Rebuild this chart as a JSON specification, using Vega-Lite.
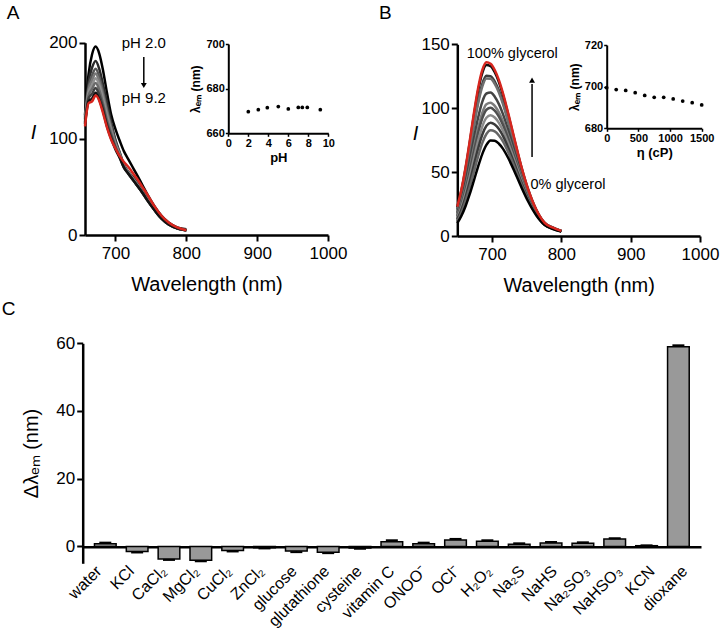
{
"$schema": "https://vega.github.io/schema/vega-lite/v6.json",
"width": 723, "height": 633,
"autosize": {"type": "none"},
"padding": 0,
"background": "white",
"config": {"view": {"stroke": null}, "font": "Liberation Sans",
  "axis": {"grid": false, "domainColor": "black", "tickColor": "black", "labelColor": "black", "titleColor": "black", "labelFont": "Liberation Sans", "titleFont": "Liberation Sans"}},
"datasets": {
"specA": [
{"s":"a1","w":657,"i":125},{"s":"a1","w":662,"i":167},{"s":"a1","w":667,"i":188},{"s":"a1","w":672,"i":196},{"s":"a1","w":677,"i":189},{"s":"a1","w":682,"i":173},{"s":"a1","w":688,"i":148},{"s":"a1","w":694,"i":125},{"s":"a1","w":700,"i":110},{"s":"a1","w":706,"i":98},{"s":"a1","w":712,"i":87},{"s":"a1","w":718,"i":79},{"s":"a1","w":724,"i":71},{"s":"a1","w":730,"i":63},{"s":"a1","w":738,"i":52},{"s":"a1","w":746,"i":41},{"s":"a1","w":755,"i":30},{"s":"a1","w":765,"i":20},{"s":"a1","w":775,"i":13},{"s":"a1","w":787,"i":8},{"s":"a1","w":800,"i":6},
{"s":"a2","w":657,"i":123},{"s":"a2","w":662,"i":159},{"s":"a2","w":667,"i":174},{"s":"a2","w":672,"i":181},{"s":"a2","w":677,"i":173},{"s":"a2","w":682,"i":158},{"s":"a2","w":688,"i":138},{"s":"a2","w":694,"i":117},{"s":"a2","w":700,"i":99},{"s":"a2","w":706,"i":86},{"s":"a2","w":712,"i":73},{"s":"a2","w":718,"i":66},{"s":"a2","w":724,"i":61},{"s":"a2","w":730,"i":55},{"s":"a2","w":738,"i":46},{"s":"a2","w":746,"i":37},{"s":"a2","w":755,"i":27},{"s":"a2","w":765,"i":18},{"s":"a2","w":775,"i":12},{"s":"a2","w":787,"i":7},{"s":"a2","w":800,"i":5},
{"s":"a3","w":657,"i":121},{"s":"a3","w":662,"i":154},{"s":"a3","w":667,"i":166},{"s":"a3","w":672,"i":173},{"s":"a3","w":677,"i":165},{"s":"a3","w":682,"i":151},{"s":"a3","w":688,"i":131},{"s":"a3","w":694,"i":113},{"s":"a3","w":700,"i":97},{"s":"a3","w":706,"i":85},{"s":"a3","w":712,"i":72},{"s":"a3","w":718,"i":65},{"s":"a3","w":724,"i":60},{"s":"a3","w":730,"i":54},{"s":"a3","w":738,"i":45},{"s":"a3","w":746,"i":36},{"s":"a3","w":755,"i":27},{"s":"a3","w":765,"i":18},{"s":"a3","w":775,"i":12},{"s":"a3","w":787,"i":7},{"s":"a3","w":800,"i":5},
{"s":"a4","w":657,"i":120},{"s":"a4","w":662,"i":151},{"s":"a4","w":667,"i":161},{"s":"a4","w":672,"i":168},{"s":"a4","w":677,"i":160},{"s":"a4","w":682,"i":147},{"s":"a4","w":688,"i":128},{"s":"a4","w":694,"i":111},{"s":"a4","w":700,"i":95},{"s":"a4","w":706,"i":84},{"s":"a4","w":712,"i":72},{"s":"a4","w":718,"i":65},{"s":"a4","w":724,"i":59},{"s":"a4","w":730,"i":53},{"s":"a4","w":738,"i":45},{"s":"a4","w":746,"i":36},{"s":"a4","w":755,"i":27},{"s":"a4","w":765,"i":18},{"s":"a4","w":775,"i":12},{"s":"a4","w":787,"i":7},{"s":"a4","w":800,"i":5},
{"s":"a5","w":657,"i":118},{"s":"a5","w":662,"i":148},{"s":"a5","w":667,"i":156},{"s":"a5","w":672,"i":163},{"s":"a5","w":677,"i":156},{"s":"a5","w":682,"i":143},{"s":"a5","w":688,"i":124},{"s":"a5","w":694,"i":108},{"s":"a5","w":700,"i":94},{"s":"a5","w":706,"i":83},{"s":"a5","w":712,"i":71},{"s":"a5","w":718,"i":65},{"s":"a5","w":724,"i":59},{"s":"a5","w":730,"i":53},{"s":"a5","w":738,"i":44},{"s":"a5","w":746,"i":36},{"s":"a5","w":755,"i":26},{"s":"a5","w":765,"i":18},{"s":"a5","w":775,"i":12},{"s":"a5","w":787,"i":7},{"s":"a5","w":800,"i":5},
{"s":"a6","w":657,"i":117},{"s":"a6","w":662,"i":145},{"s":"a6","w":667,"i":152},{"s":"a6","w":672,"i":158},{"s":"a6","w":677,"i":151},{"s":"a6","w":682,"i":138},{"s":"a6","w":688,"i":120},{"s":"a6","w":694,"i":106},{"s":"a6","w":700,"i":92},{"s":"a6","w":706,"i":82},{"s":"a6","w":712,"i":71},{"s":"a6","w":718,"i":64},{"s":"a6","w":724,"i":58},{"s":"a6","w":730,"i":52},{"s":"a6","w":738,"i":44},{"s":"a6","w":746,"i":35},{"s":"a6","w":755,"i":26},{"s":"a6","w":765,"i":17},{"s":"a6","w":775,"i":11},{"s":"a6","w":787,"i":7},{"s":"a6","w":800,"i":5},
{"s":"a7","w":657,"i":116},{"s":"a7","w":662,"i":142},{"s":"a7","w":667,"i":147},{"s":"a7","w":672,"i":153},{"s":"a7","w":677,"i":146},{"s":"a7","w":682,"i":134},{"s":"a7","w":688,"i":116},{"s":"a7","w":694,"i":103},{"s":"a7","w":700,"i":91},{"s":"a7","w":706,"i":81},{"s":"a7","w":712,"i":70},{"s":"a7","w":718,"i":64},{"s":"a7","w":724,"i":58},{"s":"a7","w":730,"i":52},{"s":"a7","w":738,"i":44},{"s":"a7","w":746,"i":35},{"s":"a7","w":755,"i":26},{"s":"a7","w":765,"i":17},{"s":"a7","w":775,"i":11},{"s":"a7","w":787,"i":7},{"s":"a7","w":800,"i":5},
{"s":"a8","w":657,"i":115},{"s":"a8","w":662,"i":139},{"s":"a8","w":667,"i":142},{"s":"a8","w":672,"i":148},{"s":"a8","w":677,"i":141},{"s":"a8","w":682,"i":130},{"s":"a8","w":688,"i":113},{"s":"a8","w":694,"i":100},{"s":"a8","w":700,"i":89},{"s":"a8","w":706,"i":80},{"s":"a8","w":712,"i":70},{"s":"a8","w":718,"i":64},{"s":"a8","w":724,"i":58},{"s":"a8","w":730,"i":52},{"s":"a8","w":738,"i":44},{"s":"a8","w":746,"i":35},{"s":"a8","w":755,"i":26},{"s":"a8","w":765,"i":17},{"s":"a8","w":775,"i":11},{"s":"a8","w":787,"i":7},{"s":"a8","w":800,"i":5},
{"s":"ar","w":657,"i":113},{"s":"ar","w":662,"i":137},{"s":"ar","w":667,"i":139},{"s":"ar","w":672,"i":145},{"s":"ar","w":677,"i":140},{"s":"ar","w":682,"i":128},{"s":"ar","w":688,"i":112},{"s":"ar","w":694,"i":99},{"s":"ar","w":700,"i":90},{"s":"ar","w":706,"i":82},{"s":"ar","w":712,"i":76},{"s":"ar","w":718,"i":71},{"s":"ar","w":724,"i":65},{"s":"ar","w":730,"i":59},{"s":"ar","w":738,"i":50},{"s":"ar","w":746,"i":41},{"s":"ar","w":755,"i":30},{"s":"ar","w":765,"i":20},{"s":"ar","w":775,"i":13},{"s":"ar","w":787,"i":8},{"s":"ar","w":800,"i":5}
],
"specB": [
{"s":"b1","w":650,"i":23.0},{"s":"b1","w":656,"i":36.5},{"s":"b1","w":662,"i":54.0},{"s":"b1","w":668,"i":74.6},{"s":"b1","w":674,"i":96.2},{"s":"b1","w":680,"i":115.6},{"s":"b1","w":686,"i":129.7},{"s":"b1","w":692,"i":135.9},{"s":"b1","w":698,"i":134.8},{"s":"b1","w":704,"i":129.9},{"s":"b1","w":710,"i":122.0},{"s":"b1","w":716,"i":111.5},{"s":"b1","w":724,"i":94.8},{"s":"b1","w":732,"i":76.9},{"s":"b1","w":742,"i":55.2},{"s":"b1","w":752,"i":36.9},{"s":"b1","w":764,"i":20.5},{"s":"b1","w":776,"i":10.3},{"s":"b1","w":788,"i":6.5},{"s":"b1","w":800,"i":4.0},
{"s":"b2","w":650,"i":22.6},{"s":"b2","w":656,"i":35.8},{"s":"b2","w":662,"i":53.0},{"s":"b2","w":668,"i":73.2},{"s":"b2","w":674,"i":94.5},{"s":"b2","w":680,"i":113.6},{"s":"b2","w":686,"i":127.5},{"s":"b2","w":692,"i":133.8},{"s":"b2","w":698,"i":132.8},{"s":"b2","w":704,"i":128.1},{"s":"b2","w":710,"i":120.4},{"s":"b2","w":716,"i":110.1},{"s":"b2","w":724,"i":93.7},{"s":"b2","w":732,"i":76.0},{"s":"b2","w":742,"i":54.7},{"s":"b2","w":752,"i":36.6},{"s":"b2","w":764,"i":20.4},{"s":"b2","w":776,"i":10.2},{"s":"b2","w":788,"i":6.5},{"s":"b2","w":800,"i":4.0},
{"s":"b3","w":650,"i":20.9},{"s":"b3","w":656,"i":33.1},{"s":"b3","w":662,"i":49.0},{"s":"b3","w":668,"i":67.8},{"s":"b3","w":674,"i":87.6},{"s":"b3","w":680,"i":105.5},{"s":"b3","w":686,"i":118.9},{"s":"b3","w":692,"i":125.3},{"s":"b3","w":698,"i":125.0},{"s":"b3","w":704,"i":120.8},{"s":"b3","w":710,"i":113.8},{"s":"b3","w":716,"i":104.4},{"s":"b3","w":724,"i":89.2},{"s":"b3","w":732,"i":72.7},{"s":"b3","w":742,"i":52.5},{"s":"b3","w":752,"i":35.3},{"s":"b3","w":764,"i":19.8},{"s":"b3","w":776,"i":10.0},{"s":"b3","w":788,"i":6.3},{"s":"b3","w":800,"i":3.9},
{"s":"b4","w":650,"i":20.4},{"s":"b4","w":656,"i":32.4},{"s":"b4","w":662,"i":48.0},{"s":"b4","w":668,"i":66.4},{"s":"b4","w":674,"i":85.8},{"s":"b4","w":680,"i":103.5},{"s":"b4","w":686,"i":116.8},{"s":"b4","w":692,"i":123.2},{"s":"b4","w":698,"i":123.0},{"s":"b4","w":704,"i":119.0},{"s":"b4","w":710,"i":112.2},{"s":"b4","w":716,"i":103.0},{"s":"b4","w":724,"i":88.0},{"s":"b4","w":732,"i":71.8},{"s":"b4","w":742,"i":51.9},{"s":"b4","w":752,"i":35.0},{"s":"b4","w":764,"i":19.6},{"s":"b4","w":776,"i":10.0},{"s":"b4","w":788,"i":6.3},{"s":"b4","w":800,"i":3.9},
{"s":"b5","w":650,"i":18.1},{"s":"b5","w":656,"i":28.7},{"s":"b5","w":662,"i":42.5},{"s":"b5","w":668,"i":58.9},{"s":"b5","w":674,"i":76.3},{"s":"b5","w":680,"i":92.5},{"s":"b5","w":686,"i":105.0},{"s":"b5","w":692,"i":111.5},{"s":"b5","w":698,"i":112.2},{"s":"b5","w":704,"i":109.0},{"s":"b5","w":710,"i":103.2},{"s":"b5","w":716,"i":95.2},{"s":"b5","w":724,"i":81.8},{"s":"b5","w":732,"i":67.2},{"s":"b5","w":742,"i":49.0},{"s":"b5","w":752,"i":33.2},{"s":"b5","w":764,"i":18.8},{"s":"b5","w":776,"i":9.7},{"s":"b5","w":788,"i":6.1},{"s":"b5","w":800,"i":3.8},
{"s":"b6","w":650,"i":16.4},{"s":"b6","w":656,"i":26.0},{"s":"b6","w":662,"i":38.5},{"s":"b6","w":668,"i":53.4},{"s":"b6","w":674,"i":69.4},{"s":"b6","w":680,"i":84.5},{"s":"b6","w":686,"i":96.4},{"s":"b6","w":692,"i":103.1},{"s":"b6","w":698,"i":104.3},{"s":"b6","w":704,"i":101.8},{"s":"b6","w":710,"i":96.7},{"s":"b6","w":716,"i":89.5},{"s":"b6","w":724,"i":77.3},{"s":"b6","w":732,"i":63.8},{"s":"b6","w":742,"i":46.8},{"s":"b6","w":752,"i":32.0},{"s":"b6","w":764,"i":18.3},{"s":"b6","w":776,"i":9.4},{"s":"b6","w":788,"i":6.0},{"s":"b6","w":800,"i":3.7},
{"s":"b7","w":650,"i":15.5},{"s":"b7","w":656,"i":24.6},{"s":"b7","w":662,"i":36.5},{"s":"b7","w":668,"i":50.7},{"s":"b7","w":674,"i":66.0},{"s":"b7","w":680,"i":80.4},{"s":"b7","w":686,"i":92.0},{"s":"b7","w":692,"i":98.8},{"s":"b7","w":698,"i":100.4},{"s":"b7","w":704,"i":98.1},{"s":"b7","w":710,"i":93.4},{"s":"b7","w":716,"i":86.6},{"s":"b7","w":724,"i":75.1},{"s":"b7","w":732,"i":62.1},{"s":"b7","w":742,"i":45.7},{"s":"b7","w":752,"i":31.3},{"s":"b7","w":764,"i":18.0},{"s":"b7","w":776,"i":9.3},{"s":"b7","w":788,"i":5.9},{"s":"b7","w":800,"i":3.7},
{"s":"b8","w":650,"i":14.3},{"s":"b8","w":656,"i":22.6},{"s":"b8","w":662,"i":33.5},{"s":"b8","w":668,"i":46.6},{"s":"b8","w":674,"i":60.8},{"s":"b8","w":680,"i":74.4},{"s":"b8","w":686,"i":85.6},{"s":"b8","w":692,"i":92.5},{"s":"b8","w":698,"i":94.5},{"s":"b8","w":704,"i":92.7},{"s":"b8","w":710,"i":88.5},{"s":"b8","w":716,"i":82.4},{"s":"b8","w":724,"i":71.7},{"s":"b8","w":732,"i":59.6},{"s":"b8","w":742,"i":44.1},{"s":"b8","w":752,"i":30.4},{"s":"b8","w":764,"i":17.5},{"s":"b8","w":776,"i":9.2},{"s":"b8","w":788,"i":5.8},{"s":"b8","w":800,"i":3.7},
{"s":"b9","w":650,"i":13.0},{"s":"b9","w":656,"i":20.6},{"s":"b9","w":662,"i":30.5},{"s":"b9","w":668,"i":42.5},{"s":"b9","w":674,"i":55.6},{"s":"b9","w":680,"i":68.4},{"s":"b9","w":686,"i":79.2},{"s":"b9","w":692,"i":86.2},{"s":"b9","w":698,"i":88.6},{"s":"b9","w":704,"i":87.2},{"s":"b9","w":710,"i":83.7},{"s":"b9","w":716,"i":78.2},{"s":"b9","w":724,"i":68.3},{"s":"b9","w":732,"i":57.0},{"s":"b9","w":742,"i":42.5},{"s":"b9","w":752,"i":29.4},{"s":"b9","w":764,"i":17.1},{"s":"b9","w":776,"i":9.0},{"s":"b9","w":788,"i":5.7},{"s":"b9","w":800,"i":3.6},
{"s":"b10","w":650,"i":11.7},{"s":"b10","w":656,"i":18.5},{"s":"b10","w":662,"i":27.5},{"s":"b10","w":668,"i":38.4},{"s":"b10","w":674,"i":50.4},{"s":"b10","w":680,"i":62.3},{"s":"b10","w":686,"i":72.7},{"s":"b10","w":692,"i":79.8},{"s":"b10","w":698,"i":82.7},{"s":"b10","w":704,"i":81.8},{"s":"b10","w":710,"i":78.7},{"s":"b10","w":716,"i":73.9},{"s":"b10","w":724,"i":64.9},{"s":"b10","w":732,"i":54.5},{"s":"b10","w":742,"i":40.9},{"s":"b10","w":752,"i":28.5},{"s":"b10","w":764,"i":16.7},{"s":"b10","w":776,"i":8.8},{"s":"b10","w":788,"i":5.6},{"s":"b10","w":800,"i":3.6},
{"s":"b11","w":650,"i":10.0},{"s":"b11","w":656,"i":15.8},{"s":"b11","w":662,"i":23.5},{"s":"b11","w":668,"i":32.9},{"s":"b11","w":674,"i":43.5},{"s":"b11","w":680,"i":54.3},{"s":"b11","w":686,"i":64.1},{"s":"b11","w":692,"i":71.3},{"s":"b11","w":698,"i":74.8},{"s":"b11","w":704,"i":74.5},{"s":"b11","w":710,"i":72.2},{"s":"b11","w":716,"i":68.2},{"s":"b11","w":724,"i":60.4},{"s":"b11","w":732,"i":51.1},{"s":"b11","w":742,"i":38.7},{"s":"b11","w":752,"i":27.2},{"s":"b11","w":764,"i":16.1},{"s":"b11","w":776,"i":8.6},{"s":"b11","w":788,"i":5.5},{"s":"b11","w":800,"i":3.5}
],
"ph": [{"ph":2.0,"lam":669.7},{"ph":3.0,"lam":670.6},{"ph":3.9,"lam":671.5},{"ph":5.0,"lam":672.0},{"ph":6.0,"lam":670.9},{"ph":7.0,"lam":671.6},{"ph":7.4,"lam":671.6},{"ph":7.9,"lam":671.6},{"ph":9.2,"lam":670.6}],
"visc": [{"eta":0,"lam":699.5},{"eta":150,"lam":698.6},{"eta":300,"lam":698.2},{"eta":450,"lam":697.1},{"eta":600,"lam":695.8},{"eta":750,"lam":694.9},{"eta":900,"lam":694.9},{"eta":1050,"lam":694.1},{"eta":1200,"lam":693.1},{"eta":1350,"lam":692.3},{"eta":1500,"lam":691.2}],
"bars": [
{"cat":"water","d":0.8,"dend":1.1},{"cat":"KCl","d":-1.5,"dend":-1.8},{"cat":"CaCl₂","d":-3.7,"dend":-4.0},{"cat":"MgCl₂","d":-4.1,"dend":-4.4},{"cat":"CuCl₂","d":-1.2,"dend":-1.5},{"cat":"ZnCl₂","d":-0.4,"dend":-0.6},{"cat":"glucose","d":-1.4,"dend":-1.7},{"cat":"glutathione","d":-1.7,"dend":-2.0},{"cat":"cysteine","d":-0.5,"dend":-0.7},{"cat":"vitamin C","d":1.4,"dend":1.8},{"cat":"ONOO⁻","d":0.8,"dend":1.1},{"cat":"OCl⁻","d":1.9,"dend":2.2},{"cat":"H₂O₂","d":1.5,"dend":1.8},{"cat":"Na₂S","d":0.6,"dend":0.9},{"cat":"NaHS","d":1.0,"dend":1.3},{"cat":"Na₂SO₃","d":0.9,"dend":1.2},{"cat":"NaHSO₃","d":2.2,"dend":2.4},{"cat":"KCN","d":0.2,"dend":0.3},{"cat":"dioxane","d":59.0,"dend":59.4}
]
},
"layer": [
  {"data": {"name": "specA"}, "transform": [{"filter": "datum.s != 'ar'"}],
   "mark": {"type": "line", "strokeWidth": 2.5, "interpolate": "monotone"},
   "encoding": {
    "x": {"field": "w", "type": "quantitative", "scale": {"domain": [657, 1000], "range": [85, 328], "nice": false, "zero": false},
      "axis": {"orient": "bottom", "offset": -398, "values": [700, 800, 900, 1000], "format": "d", "title": "Wavelength (nm)", "titleFontSize": 20, "titleFontWeight": "normal", "titlePadding": 13, "labelFontSize": 17, "labelPadding": 4, "labelFlush": false, "labelOverlap": false, "tickSize": 6, "tickWidth": 2, "domainWidth": 2.5}},
    "y": {"field": "i", "type": "quantitative", "scale": {"domain": [0, 200], "range": [235, 42.7], "nice": false, "zero": false},
      "axis": {"orient": "left", "offset": -85, "values": [0, 100, 200], "title": "I", "titleFontStyle": "italic", "titleFontSize": 20, "titleFontWeight": "normal", "titleAngle": 0, "titleX": -52, "titleY": 132, "titleAlign": "center", "titleBaseline": "middle", "labelFontSize": 17, "labelPadding": 2, "labelFlush": false, "labelOverlap": false, "tickSize": 6, "tickWidth": 2, "domainWidth": 2.5}},
    "color": {"field": "s", "type": "nominal", "scale": {"domain": ["a1","a2","a3","a4","a5","a6","a7","a8"], "range": ["#000000","#2a2a2a","#555555","#777777","#8f8f8f","#6a6a6a","#404040","#111111"]}, "legend": null}
   }},
  {"data": {"name": "specA"}, "transform": [{"filter": "datum.s == 'ar'"}],
   "mark": {"type": "line", "strokeWidth": 2.5, "interpolate": "monotone", "color": "#d7261e"},
   "encoding": {
    "x": {"field": "w", "type": "quantitative", "scale": {"domain": [657, 1000], "range": [85, 328], "nice": false, "zero": false}, "axis": null},
    "y": {"field": "i", "type": "quantitative", "scale": {"domain": [0, 200], "range": [235, 42.7], "nice": false, "zero": false}, "axis": null}
   }},
  {"data": {"values": [{"w": 740, "i": 199.7, "t": "pH 2.0"}, {"w": 740, "i": 142.5, "t": "pH 9.2"}]},
   "mark": {"type": "text", "fontSize": 15, "align": "center", "baseline": "middle", "color": "black"},
   "encoding": {
    "x": {"field": "w", "type": "quantitative", "scale": {"domain": [657, 1000], "range": [85, 328], "nice": false, "zero": false}, "axis": null},
    "y": {"field": "i", "type": "quantitative", "scale": {"domain": [0, 200], "range": [235, 42.7], "nice": false, "zero": false}, "axis": null},
    "text": {"field": "t"}
   }},
  {"data": {"values": [{"w": 555.6, "i": 230.4, "t": "A"}, {"w": 1080.9, "i": 231.4, "t": "B"}, {"w": 549.3, "i": -77, "t": "C"}]},
   "mark": {"type": "text", "fontSize": 19, "align": "center", "baseline": "middle", "color": "black"},
   "encoding": {
    "x": {"field": "w", "type": "quantitative", "scale": {"domain": [657, 1000], "range": [85, 328], "nice": false, "zero": false}, "axis": null},
    "y": {"field": "i", "type": "quantitative", "scale": {"domain": [0, 200], "range": [235, 42.7], "nice": false, "zero": false}, "axis": null},
    "text": {"field": "t"}
   }},
  {"data": {"values": [{"w": 740, "i1": 185, "i2": 158}]},
   "mark": {"type": "rule", "strokeWidth": 1.5, "color": "black"},
   "encoding": {
    "x": {"field": "w", "type": "quantitative", "scale": {"domain": [657, 1000], "range": [85, 328], "nice": false, "zero": false}, "axis": null},
    "y": {"field": "i1", "type": "quantitative", "scale": {"domain": [0, 200], "range": [235, 42.7], "nice": false, "zero": false}, "axis": null},
    "y2": {"field": "i2"}
   }},
  {"data": {"values": [{"w": 740, "i": 155.5}]},
   "mark": {"type": "point", "shape": "triangle-down", "filled": true, "size": 35, "color": "black", "opacity": 1},
   "encoding": {
    "x": {"field": "w", "type": "quantitative", "scale": {"domain": [657, 1000], "range": [85, 328], "nice": false, "zero": false}, "axis": null},
    "y": {"field": "i", "type": "quantitative", "scale": {"domain": [0, 200], "range": [235, 42.7], "nice": false, "zero": false}, "axis": null}
   }},
{
 "data": {"name": "ph"},
 "mark": {"type": "circle", "size": 14, "color": "black", "opacity": 1},
 "encoding": {
  "x": {"field": "ph", "type": "quantitative", "scale": {"domain": [0, 10], "range": [228.3, 328.3], "nice": false, "zero": false},
    "axis": {"orient": "bottom", "offset": -499.7, "values": [0, 2, 4, 6, 8, 10], "title": "pH", "titleFontSize": 13, "titleFontWeight": "bold", "titlePadding": 3, "labelFontSize": 11, "labelFontWeight": "bold", "labelPadding": 1, "labelFlush": false, "labelOverlap": false, "tickSize": 3, "tickWidth": 1.5, "domainWidth": 2}},
  "y": {"field": "lam", "type": "quantitative", "scale": {"domain": [660, 700], "range": [133.3, 44], "nice": false, "zero": false},
    "axis": {"orient": "left", "offset": -228.3, "values": [660, 680, 700], "title": "λₑₘ (nm)", "titleFontSize": 12, "titleFontWeight": "bold", "titlePadding": 3, "labelFontSize": 11, "labelFontWeight": "bold", "labelPadding": 1, "labelFlush": false, "labelOverlap": false, "tickSize": 3, "tickWidth": 1.5, "domainWidth": 2}}
 }
},
  {"data": {"name": "specB"}, "transform": [{"filter": "datum.s != 'b1'"}],
   "mark": {"type": "line", "strokeWidth": 2.5, "interpolate": "monotone"},
   "encoding": {
    "x": {"field": "w", "type": "quantitative", "scale": {"domain": [650, 1000], "range": [457.3, 700], "nice": false, "zero": false},
      "axis": {"orient": "bottom", "offset": -397, "values": [700, 800, 900, 1000], "format": "d", "title": "Wavelength (nm)", "titleFontSize": 20, "titleFontWeight": "normal", "titlePadding": 13, "labelFontSize": 17, "labelPadding": 4, "labelFlush": false, "labelOverlap": false, "tickSize": 6, "tickWidth": 2, "domainWidth": 2.5}},
    "y": {"field": "i", "type": "quantitative", "scale": {"domain": [0, 150], "range": [236, 44.3], "nice": false, "zero": false},
      "axis": {"orient": "left", "offset": -457.3, "values": [0, 50, 100, 150], "title": "I", "titleFontStyle": "italic", "titleFontSize": 20, "titleFontWeight": "normal", "titleAngle": 0, "titleX": -42.3, "titleY": 133, "titleAlign": "center", "titleBaseline": "middle", "labelFontSize": 17, "labelPadding": 2, "labelFlush": false, "labelOverlap": false, "tickSize": 6, "tickWidth": 2, "domainWidth": 2.5}},
    "color": {"field": "s", "type": "nominal", "scale": {"domain": ["b2","b3","b4","b5","b6","b7","b8","b9","b10","b11"], "range": ["#111111","#3c3c3c","#707070","#444444","#7c7c7c","#4f4f4f","#8a8a8a","#3a3a3a","#666666","#000000"]}, "legend": null}
   }},
  {"data": {"name": "specB"}, "transform": [{"filter": "datum.s == 'b1'"}],
   "mark": {"type": "line", "strokeWidth": 2.5, "interpolate": "monotone", "color": "#d7261e"},
   "encoding": {
    "x": {"field": "w", "type": "quantitative", "scale": {"domain": [650, 1000], "range": [457.3, 700], "nice": false, "zero": false}, "axis": null},
    "y": {"field": "i", "type": "quantitative", "scale": {"domain": [0, 150], "range": [236, 44.3], "nice": false, "zero": false}, "axis": null}
   }},
  {"data": {"values": [{"w": 729.3, "i": 142.4, "t": "100% glycerol"}, {"w": 809.6, "i": 39.9, "t": "0% glycerol"}]},
   "mark": {"type": "text", "fontSize": 14.5, "align": "center", "baseline": "middle", "color": "black"},
   "encoding": {
    "x": {"field": "w", "type": "quantitative", "scale": {"domain": [650, 1000], "range": [457.3, 700], "nice": false, "zero": false}, "axis": null},
    "y": {"field": "i", "type": "quantitative", "scale": {"domain": [0, 150], "range": [236, 44.3], "nice": false, "zero": false}, "axis": null},
    "text": {"field": "t"}
   }},
  {"data": {"values": [{"w": 757.8, "i1": 61.8, "i2": 119}]},
   "mark": {"type": "rule", "strokeWidth": 1.5, "color": "black"},
   "encoding": {
    "x": {"field": "w", "type": "quantitative", "scale": {"domain": [650, 1000], "range": [457.3, 700], "nice": false, "zero": false}, "axis": null},
    "y": {"field": "i1", "type": "quantitative", "scale": {"domain": [0, 150], "range": [236, 44.3], "nice": false, "zero": false}, "axis": null},
    "y2": {"field": "i2"}
   }},
  {"data": {"values": [{"w": 757.8, "i": 122}]},
   "mark": {"type": "point", "shape": "triangle-up", "filled": true, "size": 35, "color": "black", "opacity": 1},
   "encoding": {
    "x": {"field": "w", "type": "quantitative", "scale": {"domain": [650, 1000], "range": [457.3, 700], "nice": false, "zero": false}, "axis": null},
    "y": {"field": "i", "type": "quantitative", "scale": {"domain": [0, 150], "range": [236, 44.3], "nice": false, "zero": false}, "axis": null}
   }},
{
 "data": {"name": "visc"},
 "mark": {"type": "circle", "size": 14, "color": "black", "opacity": 1},
 "encoding": {
  "x": {"field": "eta", "type": "quantitative", "scale": {"domain": [0, 1500], "range": [606.7, 701.7], "nice": false, "zero": false},
    "axis": {"orient": "bottom", "offset": -504.7, "values": [0, 500, 1000, 1500], "format": "d", "title": "η (cP)", "titleFontSize": 13, "titleFontWeight": "bold", "titlePadding": 3, "labelFontSize": 11, "labelFontWeight": "bold", "labelPadding": 1, "labelFlush": false, "labelOverlap": false, "tickSize": 3, "tickWidth": 1.5, "domainWidth": 2}},
  "y": {"field": "lam", "type": "quantitative", "scale": {"domain": [680, 720], "range": [128.3, 45], "nice": false, "zero": false},
    "axis": {"orient": "left", "offset": -606.7, "values": [680, 700, 720], "title": "λₑₘ (nm)", "titleFontSize": 12, "titleFontWeight": "bold", "titlePadding": 3, "labelFontSize": 11, "labelFontWeight": "bold", "labelPadding": 1, "labelFlush": false, "labelOverlap": false, "tickSize": 3, "tickWidth": 1.5, "domainWidth": 2}}
 }
},
  {"data": {"name": "bars"},
   "mark": {"type": "bar", "fill": "#999999", "stroke": "black", "strokeWidth": 1.5},
   "encoding": {
    "x": {"field": "cat", "type": "nominal", "sort": null,
      "scale": {"domain": ["water","KCl","CaCl₂","MgCl₂","CuCl₂","ZnCl₂","glucose","glutathione","cysteine","vitamin C","ONOO⁻","OCl⁻","H₂O₂","Na₂S","NaHS","Na₂SO₃","NaHSO₃","KCN","dioxane"], "range": [82.7, 701], "paddingInner": 0.32, "paddingOuter": 0.37},
      "axis": {"orient": "bottom", "offset": -86.3, "title": null, "labels": false, "ticks": false, "tickSize": 0, "domainWidth": 2.5}},
    "y": {"field": "d", "type": "quantitative", "stack": null, "scale": {"domain": [-5, 60], "range": [563.3, 343.3], "nice": false, "zero": false},
      "axis": {"orient": "left", "offset": -82.7, "values": [0, 20, 40, 60], "title": "Δλₑₘ (nm)", "titleFontSize": 20, "titleFontWeight": "normal", "titleX": -51, "titleY": 453, "titleAngle": -90, "titleAlign": "center", "titleBaseline": "middle", "labelFontSize": 17, "labelPadding": 2, "labelFlush": false, "labelOverlap": false, "tickSize": 6, "tickWidth": 2, "domainWidth": 2.5}},
    "y2": {"datum": 0}
   }},
  {"data": {"name": "bars"},
   "mark": {"type": "rule", "strokeWidth": 1.5, "color": "black"},
   "encoding": {
    "x": {"field": "cat", "type": "nominal", "sort": null, "scale": {"domain": ["water","KCl","CaCl₂","MgCl₂","CuCl₂","ZnCl₂","glucose","glutathione","cysteine","vitamin C","ONOO⁻","OCl⁻","H₂O₂","Na₂S","NaHS","Na₂SO₃","NaHSO₃","KCN","dioxane"], "range": [82.7, 701], "paddingInner": 0.32, "paddingOuter": 0.37}, "axis": null},
    "y": {"field": "d", "type": "quantitative", "scale": {"domain": [-5, 60], "range": [563.3, 343.3], "nice": false, "zero": false}, "axis": null},
    "y2": {"field": "dend"}
   }},
  {"data": {"name": "bars"},
   "mark": {"type": "tick", "thickness": 2, "size": 12, "color": "black", "orient": "horizontal", "opacity": 1},
   "encoding": {
    "x": {"field": "cat", "type": "nominal", "sort": null, "scale": {"domain": ["water","KCl","CaCl₂","MgCl₂","CuCl₂","ZnCl₂","glucose","glutathione","cysteine","vitamin C","ONOO⁻","OCl⁻","H₂O₂","Na₂S","NaHS","Na₂SO₃","NaHSO₃","KCN","dioxane"], "range": [82.7, 701], "paddingInner": 0.32, "paddingOuter": 0.37}, "axis": null},
    "y": {"field": "dend", "type": "quantitative", "scale": {"domain": [-5, 60], "range": [563.3, 343.3], "nice": false, "zero": false}, "axis": null}
   }},
  {"data": {"name": "bars"},
   "mark": {"type": "text", "angle": 315, "align": "right", "baseline": "middle", "fontSize": 16, "color": "black"},
   "encoding": {
    "x": {"field": "cat", "type": "nominal", "sort": null, "bandPosition": 0.87, "scale": {"domain": ["water","KCl","CaCl₂","MgCl₂","CuCl₂","ZnCl₂","glucose","glutathione","cysteine","vitamin C","ONOO⁻","OCl⁻","H₂O₂","Na₂S","NaHS","Na₂SO₃","NaHSO₃","KCN","dioxane"], "range": [82.7, 701], "paddingInner": 0.32, "paddingOuter": 0.37}, "axis": null},
    "y": {"datum": -6.6, "type": "quantitative", "scale": {"domain": [-5, 60], "range": [563.3, 343.3], "nice": false, "zero": false}, "axis": null},
    "text": {"field": "cat"}
   }}
],
"resolve": {"scale": {"x": "independent", "y": "independent", "color": "independent"}, "axis": {"x": "independent", "y": "independent"}}
}
